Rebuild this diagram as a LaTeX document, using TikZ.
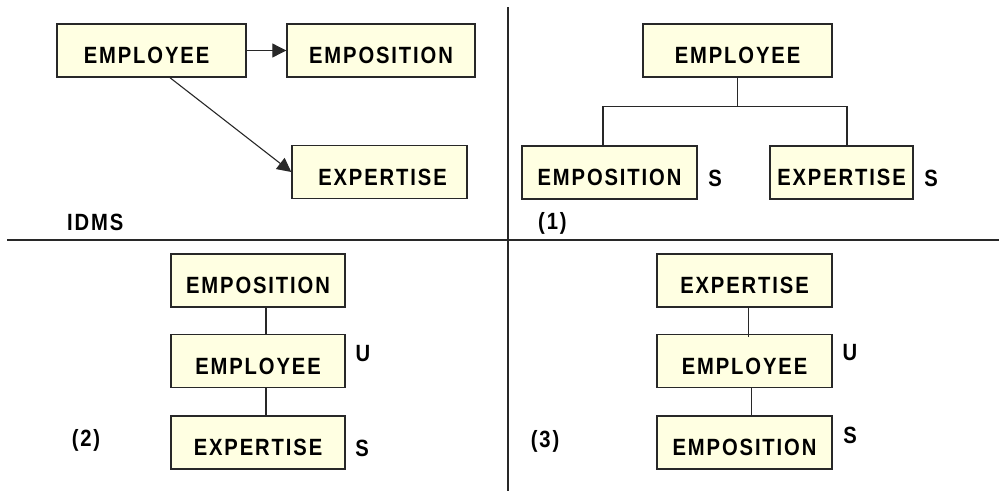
\documentclass[tikz,border=0pt]{standalone}
\usepackage{fontspec}
\setmainfont{Liberation Sans}[FakeStretch=0.86,LetterSpace=8]
\usetikzlibrary{arrows.meta}
\definecolor{boxfill}{RGB}{255,255,226}
\definecolor{rule}{RGB}{40,40,40}
\tikzset{
  rec/.style={draw=rule, line width=1.4pt, fill=boxfill, inner sep=0pt,
    minimum height=53pt, text height=26pt, text depth=0pt,
    font=\fontsize{23.5}{26}\selectfont\bfseries},
  tag/.style={inner sep=0pt, font=\fontsize{23.5}{26}\selectfont\bfseries},
  link/.style={draw=rule, line width=1.1pt},
  flow/.style={link, -{Triangle[length=14pt,width=14pt]}},
  divider/.style={draw=rule, line width=1.8pt}
}
\begin{document}
\begin{tikzpicture}[x=1pt,y=-1pt]
\useasboundingbox (0,0) rectangle (999,491);

% quadrant dividers
\coordinate (hl) at (7,240);
\coordinate (hr) at (999,240);
\coordinate (vt) at (508,7);
\coordinate (vb) at (508,491);
\draw[divider] (hl) -- (hr);
\draw[divider] (vt) -- (vb);

% IDMS network
\node[rec, minimum width=189pt] (a1) at (151.5,50.5) {\hspace*{-10pt}EMPLOYEE};
\node[rec, minimum width=188pt] (a2) at (381,50.5) {EMPOSITION};
\node[rec, minimum width=175pt] (a3) at (379.5,172) {\hspace*{6pt}EXPERTISE};
\draw[flow] (a1) -- (a2);
\draw[flow] ([xshift=18.5pt]a1.south) -- (a3.west);
\node[tag, anchor=west] (lidms) at (67,222) {IDMS};

% hierarchy (1)
\node[rec, minimum width=189pt] (b1) at (737.5,50.5) {EMPLOYEE};
\node[rec, minimum width=175pt] (b2) at (609.5,172.5) {EMPOSITION};
\node[rec, minimum width=143pt] (b3) at (841.5,172.5) {EXPERTISE};
\draw[link] (b1.south) -- ++(0,29) coordinate (bj);
\draw[link] ([xshift=-6.5pt]b2.north) |- (bj) -| ([xshift=5.5pt]b3.north);
\node[tag] (bs2) at (715,178) {S};
\node[tag] (bs3) at (931,178) {S};
\node[tag, anchor=west] (l1) at (538,223) {(1)};

% hierarchy (2)
\node[rec, minimum width=174pt] (c1) at (258,280.5) {EMPOSITION};
\node[rec, minimum width=174pt] (c2) at (258,361) {EMPLOYEE};
\node[rec, minimum width=174pt] (c3) at (258,442.5) {EXPERTISE};
\draw[link] ([xshift=8pt]c1.south) -- ([xshift=8pt]c2.north);
\draw[link] ([xshift=8pt]c2.south) -- ([xshift=8pt]c3.north);
\node[tag] (cu) at (363,354) {U};
\node[tag] (cs) at (362,448) {S};
\node[tag] (l2) at (86,440) {(2)};

% hierarchy (3)
\node[rec, minimum width=175pt] (d1) at (744.5,280.5) {EXPERTISE};
\node[rec, minimum width=175pt] (d2) at (744.5,361) {EMPLOYEE};
\node[rec, minimum width=175pt] (d3) at (744.5,442.5) {EMPOSITION};
\draw[link] ([xshift=4pt]d1.south) -- ([xshift=4pt,yshift=-3pt]d2.north);
\draw[link] ([xshift=7pt]d2.south) -- ([xshift=7pt]d3.north);
\node[tag] (du) at (850,353) {U};
\node[tag] (ds) at (850,435) {S};
\node[tag] (l3) at (545,441) {(3)};
\end{tikzpicture}
\end{document}
